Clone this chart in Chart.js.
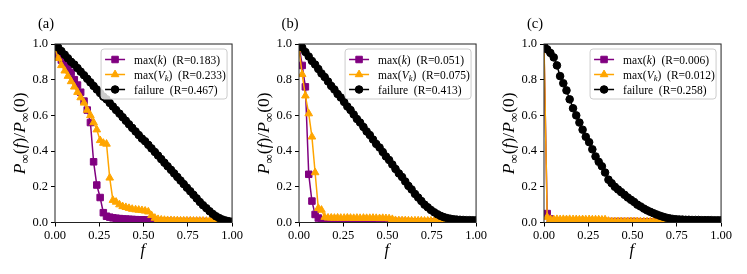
<!DOCTYPE html>
<html>
<head>
<meta charset="utf-8">
<script src="https://cdn.jsdelivr.net/npm/chart.js@4.4.1/dist/chart.umd.min.js"></script>
<style>
  html, body { margin: 0; padding: 0; background: #fff; }
  #fig { position: relative; width: 747px; height: 274px; overflow: hidden; }
  #fig canvas { position: absolute; top: 0; }
</style>
</head>
<body>
<div id="fig">
  <canvas id="panelA" width="245" height="274" style="left:0px"></canvas>
  <canvas id="panelB" width="245" height="274" style="left:244px"></canvas>
  <canvas id="panelC" width="245" height="274" style="left:489px"></canvas>
</div>
<script>
// removed fraction f
const fractions = [
  0, 0.018, 0.036, 0.055, 0.073, 0.091, 0.109, 0.127, 0.145, 0.164,
  0.182, 0.2, 0.218, 0.236, 0.255, 0.273, 0.291, 0.309, 0.327, 0.345,
  0.364, 0.382, 0.4, 0.418, 0.436, 0.455, 0.473, 0.491, 0.509, 0.527,
  0.545, 0.564, 0.582, 0.6, 0.618, 0.636, 0.655, 0.673, 0.691, 0.709,
  0.727, 0.745, 0.764, 0.782, 0.8, 0.818, 0.836, 0.855, 0.873, 0.891,
  0.909, 0.927, 0.945, 0.964, 0.982, 1.0
];

const xTicks = [0, 0.25, 0.5, 0.75, 1];
const xTickLabels = ["0.00", "0.25", "0.50", "0.75", "1.00"];
const yTicks = [0, 0.2, 0.4, 0.6, 0.8, 1];
const yTickLabels = ["0.0", "0.2", "0.4", "0.6", "0.8", "1.0"];

const panelTags = ["(a)", "(b)", "(c)"];
const rMaxK = ["0.183", "0.051", "0.006"];
const rMaxV = ["0.233", "0.075", "0.012"];
const rFail = ["0.467", "0.413", "0.258"];

// (a)
const maxK_a = [
  0.99, 0.94, 0.91, 0.89, 0.87, 0.84, 0.80, 0.77, 0.73, 0.68,
  0.63, 0.56, 0.34, 0.21, 0.14, 0.055, 0.035, 0.03, 0.026, 0.024,
  0.022, 0.02, 0.019, 0.018, 0.017, 0.016, 0.015, 0.015, 0.014, 0.013,
  0.012, 0.008, 0.007, 0.007, 0.006, 0.006, 0.006, 0.005, 0.005, 0.005,
  0.005, 0.005, 0.005, 0.005, 0.005, 0.005, 0.005, 0.005, 0.004, 0.004,
  0.004, 0.004, null, null, null, null
];
const maxV_a = [
  0.97, 0.92, 0.88, 0.85, 0.82, 0.79, 0.76, 0.73, 0.70, 0.67,
  0.63, 0.60, 0.56, 0.52, 0.46, 0.445, 0.44, 0.25, 0.125, 0.115,
  0.10, 0.09, 0.085, 0.08, 0.075, 0.072, 0.07, 0.068, 0.065, 0.06,
  0.04, 0.025, 0.018, 0.015, 0.013, 0.012, 0.012, 0.011, 0.011, 0.010,
  0.010, 0.010, 0.010, 0.009, 0.009, 0.009, 0.009, 0.008, 0.008, 0.008,
  0.008, 0.008, null, null, null, null
];
const fail_a = [
  1.0, 0.98, 0.96, 0.94, 0.92, 0.90, 0.885, 0.865, 0.845, 0.825,
  0.805, 0.785, 0.765, 0.745, 0.725, 0.705, 0.69, 0.67, 0.65, 0.63,
  0.61, 0.59, 0.57, 0.55, 0.53, 0.51, 0.49, 0.47, 0.455, 0.435,
  0.415, 0.395, 0.375, 0.355, 0.335, 0.315, 0.295, 0.275, 0.255, 0.235,
  0.215, 0.195, 0.175, 0.155, 0.135, 0.115, 0.097, 0.08, 0.063, 0.048,
  0.035, 0.025, 0.017, 0.011, 0.007, 0.004
];

// (b)
const maxK_b = [
  0.99, 0.88, 0.76, 0.27, 0.12, 0.045, 0.025, 0.012, 0.007, 0.006,
  0.006, 0.006, 0.006, 0.006, 0.005, 0.005, 0.005, 0.005, 0.005, 0.005,
  0.005, 0.005, 0.005, 0.005, 0.005, 0.005, 0.005, 0.005, 0.005, 0.005,
  0.005, 0.005, 0.005, 0.005, 0.004, 0.004, 0.004, 0.004, 0.004, 0.004,
  0.004, 0.004, 0.004, 0.004, 0.004, 0.004, 0.004, null, null, null,
  null, null, null, null, null, null
];
const maxV_b = [
  0.97, 0.83, 0.71, 0.61, 0.48, 0.28, 0.08, 0.07, 0.03, 0.026,
  0.026, 0.025, 0.026, 0.025, 0.025, 0.026, 0.025, 0.024, 0.025, 0.024,
  0.025, 0.024, 0.024, 0.025, 0.024, 0.023, 0.024, 0.023, 0.022, 0.018,
  0.012, 0.011, 0.011, 0.011, 0.010, 0.010, 0.010, 0.010, 0.010, 0.009,
  0.009, 0.009, 0.009, 0.008, 0.008, 0.008, 0.008, null, null, null,
  null, null, null, null, null, null
];
const fail_b = [
  1.0, 0.98, 0.955, 0.93, 0.905, 0.885, 0.86, 0.835, 0.815, 0.79,
  0.765, 0.745, 0.72, 0.70, 0.675, 0.65, 0.63, 0.605, 0.58, 0.56,
  0.535, 0.51, 0.49, 0.465, 0.44, 0.42, 0.395, 0.37, 0.35, 0.325,
  0.30, 0.275, 0.255, 0.23, 0.205, 0.185, 0.16, 0.14, 0.12, 0.10,
  0.085, 0.07, 0.057, 0.046, 0.037, 0.03, 0.025, 0.021, 0.018, 0.016,
  0.015, 0.014, 0.013, 0.013, 0.012, 0.012
];

// (c)
const maxK_c = [
  0.97, 0.05, 0.02, 0.008, 0.006, 0.006, 0.006, 0.005, 0.005, 0.005,
  0.005, 0.005, 0.005, 0.005, 0.005, 0.005, 0.005, 0.005, 0.005, 0.005,
  0.005, 0.005, 0.005, 0.005, 0.005, 0.005, 0.005, 0.005, 0.005, 0.005,
  0.004, 0.004, 0.004, 0.004, 0.004, 0.004, 0.004, 0.004, 0.004, null,
  null, null, null, null, null, null, null, null, null, null,
  null, null, null, null, null, null
];
const maxV_c = [
  1.0, 0.03, 0.018, 0.017, 0.018, 0.017, 0.018, 0.017, 0.018, 0.017,
  0.017, 0.016, 0.017, 0.016, 0.017, 0.016, 0.016, 0.016, 0.015, 0.016,
  0.008, 0.006, 0.006, 0.006, 0.006, 0.006, 0.006, 0.006, 0.006, 0.006,
  0.005, 0.005, 0.005, 0.005, 0.005, 0.005, 0.005, 0.005, 0.005, null,
  null, null, null, null, null, null, null, null, null, null,
  null, null, null, null, null, null
];
const fail_c = [
  0.99, 0.97, 0.95, 0.925, 0.88, 0.82, 0.78, 0.74, 0.69, 0.64,
  0.60, 0.56, 0.52, 0.48, 0.45, 0.41, 0.37, 0.34, 0.315, 0.28,
  0.24, 0.22, 0.20, 0.185, 0.17, 0.155, 0.14, 0.127, 0.115, 0.10,
  0.09, 0.078, 0.068, 0.06, 0.052, 0.045, 0.038, 0.032, 0.027, 0.023,
  0.02, 0.018, 0.017, 0.016, 0.015, 0.015, 0.014, 0.014, 0.014, 0.013,
  0.013, 0.013, 0.013, 0.012, 0.012, 0.012
];

const SERIF = '"Liberation Serif", "DejaVu Serif", serif';
const PURPLE = "#800080", ORANGE = "#ffa500", BLACK = "#000000";

function toPoints(vals) {
  return fractions.map((f, i) => ({ x: f, y: vals[i] })).filter(p => p.y !== null);
}

// text made of pieces: [text, style] with style "", "i", "s" (sub), "is"
function richWidth(ctx, parts, size) {
  let w = 0;
  for (const [t, st] of parts) {
    const sz = st.includes("s") ? size * 0.75 : size;
    ctx.font = (st.includes("i") ? "italic " : "") + sz + "px " + SERIF;
    w += ctx.measureText(t).width;
  }
  return w;
}
function drawRich(ctx, parts, x, y, size) {
  ctx.textAlign = "left";
  ctx.textBaseline = "alphabetic";
  for (const [t, st] of parts) {
    const sub = st.includes("s");
    const sz = sub ? size * 0.75 : size;
    ctx.font = (st.includes("i") ? "italic " : "") + sz + "px " + SERIF;
    ctx.fillText(t, x, sub ? y + size * 0.2 : y);
    x += ctx.measureText(t).width;
  }
}

function drawMarker(ctx, style, x, y, r, color) {
  ctx.fillStyle = color;
  ctx.strokeStyle = color;
  ctx.lineWidth = 1;
  ctx.beginPath();
  if (style === "rect") {
    const h = r * Math.SQRT1_2;
    ctx.rect(x - h, y - h, 2 * h, 2 * h);
  } else if (style === "triangle") {
    ctx.moveTo(x, y - r);
    ctx.lineTo(x + r * Math.sin(2 * Math.PI / 3), y - r * Math.cos(2 * Math.PI / 3));
    ctx.lineTo(x + r * Math.sin(4 * Math.PI / 3), y - r * Math.cos(4 * Math.PI / 3));
    ctx.closePath();
  } else {
    ctx.arc(x, y, r, 0, Math.PI * 2);
  }
  ctx.fill();
  ctx.stroke();
}

const yTitle = [["P", "i"], ["∞", "s"], ["(", ""], ["f", "i"], [")/", ""], ["P", "i"], ["∞", "s"], ["(0)", ""]];

const decor = {
  id: "decor",
  afterDatasetsDraw(chart) {
    const { ctx, chartArea: a } = chart;
    const p = chart.options.plugins.decor;
    ctx.save();
    // frame
    ctx.strokeStyle = "#222";
    ctx.lineWidth = 1;
    ctx.strokeRect(a.left, a.top, a.right - a.left, a.bottom - a.top);

    // legend box inside the axes
    const bw = 126, bh = 50;
    const bx = a.right - 5 - bw, by = a.top + 5;
    ctx.beginPath();
    ctx.roundRect(bx, by, bw, bh, 3);
    ctx.fillStyle = "rgba(255,255,255,0.8)";
    ctx.fill();
    ctx.strokeStyle = "#cccccc";
    ctx.stroke();
    p.items.forEach((it, k) => {
      const yy = by + 10.5 + k * 15;
      ctx.strokeStyle = it.color;
      ctx.lineWidth = 1.5;
      ctx.beginPath();
      ctx.moveTo(bx + 4, yy);
      ctx.lineTo(bx + 24, yy);
      ctx.stroke();
      drawMarker(ctx, it.marker, bx + 14, yy, it.radius, it.color);
      ctx.fillStyle = "#000";
      drawRich(ctx, it.label, bx + 33, yy + 4, 11.5);
    });

    // panel tag
    ctx.fillStyle = "#000";
    ctx.font = "14.5px " + SERIF;
    ctx.textAlign = "center";
    ctx.textBaseline = "alphabetic";
    ctx.fillText(p.tag, a.left - 9, 28);

    // x title
    drawRich(ctx, [["f", "i"]], (a.left + a.right) / 2 - 3, 255, 16.5);

    // y title, rotated
    ctx.translate(25, (a.top + a.bottom) / 2);
    ctx.rotate(-Math.PI / 2);
    const w = richWidth(ctx, yTitle, 17.5);
    drawRich(ctx, yTitle, -w / 2, 0, 17.5);
    ctx.restore();
  }
};

function makePanel(id, idx, kVals, vVals, fVals) {
  const items = [
    { color: PURPLE, marker: "rect", radius: 4.6,
      label: [["max(", ""], ["k", "i"], [")  (R=" + rMaxK[idx] + ")", ""]] },
    { color: ORANGE, marker: "triangle", radius: 4.4,
      label: [["max(", ""], ["V", "i"], ["k", "is"], [")  (R=" + rMaxV[idx] + ")", ""]] },
    { color: BLACK, marker: "circle", radius: 3.8,
      label: [["failure  (R=" + rFail[idx] + ")", ""]] }
  ];
  const ds = (vals, it, order) => ({
    data: toPoints(vals),
    borderColor: it.color,
    backgroundColor: it.color,
    borderWidth: 1.5,
    pointStyle: it.marker,
    pointRadius: it.radius,
    pointBorderWidth: 1,
    pointBorderColor: it.color,
    pointBackgroundColor: it.color,
    tension: 0,
    order: order
  });
  const tickFont = { family: SERIF, size: 12.5 };
  new Chart(document.getElementById(id), {
    type: "line",
    data: {
      datasets: [ds(kVals, items[0], 3), ds(vVals, items[1], 2), ds(fVals, items[2], 1)]
    },
    plugins: [decor],
    options: {
      responsive: false,
      animation: false,
      devicePixelRatio: 1,
      layout: { padding: { left: 0, right: 11.5, top: 44, bottom: 0 } },
      plugins: {
        legend: { display: false },
        tooltip: { enabled: false },
        decor: { tag: panelTags[idx], items: items }
      },
      scales: {
        x: {
          type: "linear", min: 0, max: 1,
          afterBuildTicks: s => { s.ticks = xTicks.map(v => ({ value: v })); },
          afterFit: s => { s.height = 51.5; },
          ticks: { color: "#000", font: tickFont, padding: 2, maxRotation: 0,
                   callback: (v, i) => xTickLabels[i] },
          grid: { drawOnChartArea: false, drawTicks: true, tickLength: 4,
                  tickColor: "#000", tickWidth: 1 },
          border: { display: false }
        },
        y: {
          type: "linear", min: 0, max: 1,
          afterBuildTicks: s => { s.ticks = yTicks.map(v => ({ value: v })); },
          afterFit: s => { s.width = 55; },
          ticks: { color: "#000", font: tickFont, padding: 3,
                   callback: (v, i) => yTickLabels[i] },
          grid: { drawOnChartArea: false, drawTicks: true, tickLength: 4,
                  tickColor: "#000", tickWidth: 1 },
          border: { display: false }
        }
      }
    }
  });
}

makePanel("panelA", 0, maxK_a, maxV_a, fail_a);
makePanel("panelB", 1, maxK_b, maxV_b, fail_b);
makePanel("panelC", 2, maxK_c, maxV_c, fail_c);
</script>
</body>
</html>
